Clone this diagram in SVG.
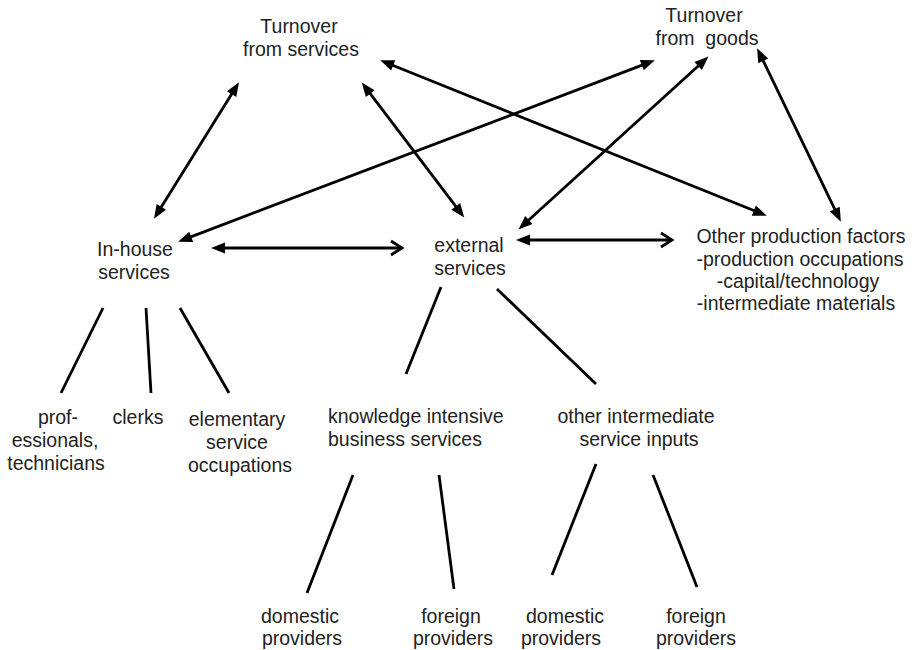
<svg xmlns="http://www.w3.org/2000/svg" width="912" height="650" viewBox="0 0 912 650">
<style>
text{font-family:"Liberation Sans",Arial,Helvetica,sans-serif;font-size:19.5px;fill:#222;text-anchor:middle}
.c line{stroke:#000;stroke-width:2.8;fill:none}
.a{marker-start:url(#head);marker-end:url(#head)}
.h{marker-start:url(#head);marker-end:url(#open)}
</style>
<defs>
<marker id="head" markerUnits="userSpaceOnUse" markerWidth="16" markerHeight="12" refX="6" refY="5.5" orient="auto-start-reverse" overflow="visible">
<path d="M0,0 L14,5.5 L0,11 z" fill="#000"/>
</marker>
<marker id="open" markerUnits="userSpaceOnUse" markerWidth="14" markerHeight="16" refX="11" refY="7" orient="auto" overflow="visible">
<path d="M0,0 L11,7 L0,14" fill="none" stroke="#000" stroke-width="2.8" stroke-linejoin="miter"/>
</marker>
</defs>
<rect width="912" height="650" fill="#fff"/>
<g id="connectors" class="c">
<line class="a" x1="234.8" y1="89.1" x2="158.2" y2="211.9"/>
<line class="a" x1="366.6" y1="88.8" x2="459.4" y2="211.2"/>
<line class="a" x1="387.6" y1="63.2" x2="759.4" y2="212.8"/>
<line class="a" x1="647.4" y1="63.1" x2="185.6" y2="238.9"/>
<line class="a" x1="702.6" y1="62" x2="524.4" y2="224"/>
<line class="a" x1="760.6" y1="55.4" x2="837.4" y2="214.6"/>
<line class="h" x1="219" y1="248" x2="402" y2="248"/>
<line class="h" x1="524" y1="240" x2="672" y2="240"/>
<line x1="103" y1="308" x2="61" y2="393"/>
<line x1="146" y1="308" x2="151" y2="393"/>
<line x1="180" y1="308" x2="229" y2="393"/>
<line x1="441" y1="287" x2="406" y2="374"/>
<line x1="497" y1="289" x2="596" y2="384"/>
<line x1="353" y1="475" x2="307" y2="593"/>
<line x1="439" y1="475" x2="454" y2="589"/>
<line x1="596" y1="464" x2="552" y2="575"/>
<line x1="653" y1="475" x2="697" y2="587"/>
</g>
<g id="turnover-services"><text x="299" y="33">Turnover</text><text x="301" y="56">from services</text></g>
<g id="turnover-goods"><text x="704" y="22">Turnover</text><text x="707" y="45" xml:space="preserve">from  goods</text></g>
<g id="in-house"><text x="135" y="256">In-house</text><text x="134" y="279">services</text></g>
<g id="external"><text x="469" y="252">external</text><text x="470" y="275">services</text></g>
<g id="other-factors"><text x="801" y="243">Other production factors</text><text x="800" y="266">-production occupations</text><text x="798" y="288">-capital/technology</text><text x="796" y="310">-intermediate materials</text></g>
<g id="professionals"><text x="58" y="424">prof-</text><text x="55" y="447">essionals,</text><text x="56" y="470">technicians</text></g>
<g id="clerks"><text x="138" y="424">clerks</text></g>
<g id="elementary"><text x="237" y="426">elementary</text><text x="237" y="449">service</text><text x="240" y="472">occupations</text></g>
<g id="kibs"><text x="328" y="423" style="text-anchor:start">knowledge intensive</text><text x="328" y="446" style="text-anchor:start">business services</text></g>
<g id="other-intermediate"><text x="636" y="423">other intermediate</text><text x="639" y="446">service inputs</text></g>
<g id="kibs-domestic"><text x="300" y="623">domestic</text><text x="302" y="645">providers</text></g>
<g id="kibs-foreign"><text x="451" y="623">foreign</text><text x="453" y="645">providers</text></g>
<g id="other-domestic"><text x="565" y="623">domestic</text><text x="561" y="645">providers</text></g>
<g id="other-foreign"><text x="696" y="623">foreign</text><text x="696" y="645">providers</text></g>
</svg>
